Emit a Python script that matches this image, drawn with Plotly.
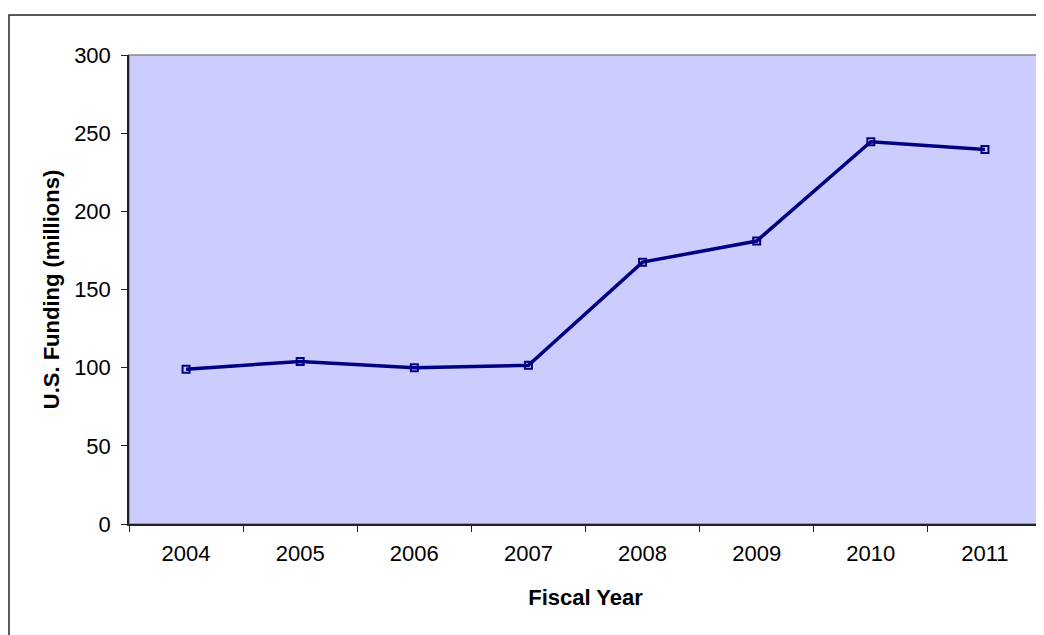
import plotly.graph_objects as go

years = ["2004", "2005", "2006", "2007", "2008", "2009", "2010", "2011"]
funding = [99, 104, 100, 101.5, 167.5, 181, 244.5, 239.5]
y_ticks = [0, 50, 100, 150, 200, 250, 300]

# page has an 8px body margin, so the figure is sized/offset to compensate
W, H = 1036, 627
L, T, R, B = 121, 47, 2, 111

fig = go.Figure()
fig.add_trace(go.Scatter(
    x=years, y=funding, mode="lines+markers",
    line=dict(color="#000080", width=3.5),
    marker=dict(symbol="square-open", size=7, color="#000080", line=dict(width=2)),
    showlegend=False, cliponaxis=False,
))

pw = W - L - R
ph = H - T - B
fig.update_layout(
    width=W, height=H,
    margin=dict(l=L, r=R, t=T, b=B, autoexpand=False),
    paper_bgcolor="white", plot_bgcolor="#CCCCFF",
    font=dict(family="Liberation Sans, Arial", color="black", size=22),
    xaxis=dict(
        type="category", tickson="boundaries", ticks="outside", ticklen=6,
        tickcolor="#222", tickwidth=1, showline=True, linecolor="#222", linewidth=1.5,
        showgrid=False, tickfont=dict(size=22), ticklabelstandoff=9,
        title=dict(text="<b>Fiscal Year</b>", font=dict(size=22), standoff=24),
        range=[-0.5, 7.5],
    ),
    yaxis=dict(
        range=[0, 300], tickvals=y_ticks, ticks="outside", ticklen=6,
        tickcolor="#222", tickwidth=1, showline=True, linecolor="#222", linewidth=1.5,
        showgrid=False, zeroline=False, tickfont=dict(size=22), ticklabelstandoff=6,
        title=dict(text="<b>U.S. Funding (millions)</b>", font=dict(size=22), standoff=8),
    ),
    shapes=[
        dict(type="rect", xref="paper", yref="paper", x0=0, y0=0, x1=1, y1=1,
             line=dict(color="#888888", width=1.5), layer="below"),
        dict(type="rect", xref="paper", yref="paper",
             x0=(1 - L) / pw, x1=(W + 10 - L) / pw,
             y0=-(H + 10 - T - ph) / ph, y1=(T + ph - 7) / ph,
             line=dict(color="#222222", width=1.5)),
    ],
)

fig.write_html("out.html")
